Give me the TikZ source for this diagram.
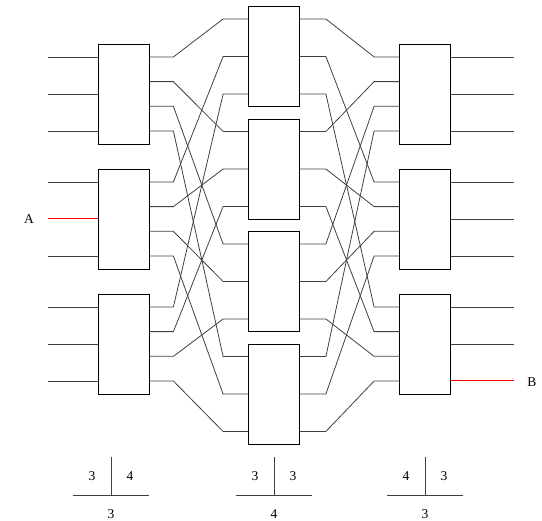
\documentclass[tikz,border=0pt]{standalone}
\usepackage{fontspec}
\setmainfont{Liberation Serif}
\usetikzlibrary{calc}

\tikzset{
  stage/.style={draw=black, line width=0.8pt, minimum width=51pt, minimum height=100pt, inner sep=0pt},
  wire/.style={draw=black!75, line width=0.8pt},
  hot/.style={draw=red, line width=1pt},
  lbl/.style={font=\fontsize{13.5}{15}\selectfont, inner sep=0pt}
}

\begin{document}
\begin{tikzpicture}[x=1pt, y=-1pt]
  \useasboundingbox (0,0) rectangle (542,521);

  % ==========================================
  % ETAGES : 3 + 4 + 3 COMMUTATEURS
  % ==========================================
  \foreach \i in {1,2,3} {
    \node[stage] (L\i) at (123.5, {94+125*(\i-1)}) {};
    \node[stage] (R\i) at (425, {94+125*(\i-1)}) {};
  }
  \foreach \j in {1,...,4} {
    \node[stage] (M\j) at (274, {56.5+112.5*(\j-1)}) {};
  }

  % Ports des commutateurs
  \foreach \i in {1,2,3} {
    \foreach \k in {1,2,3} {
      \coordinate (Li-\i-\k) at ($(L\i.west)+(0,{37*(\k-2)})$);
      \coordinate (Ro-\i-\k) at ($(R\i.east)+(0,{37*(\k-2)})$);
    }
    \foreach \j in {1,...,4} {
      \coordinate (Lo-\i-\j) at ($(L\i.east)+(0,{24.7*(\j-2.5)})$);
      \coordinate (Ri-\i-\j) at ($(R\i.west)+(0,{24.7*(\j-2.5)})$);
    }
  }
  \foreach \j in {1,...,4} {
    \foreach \k in {1,2,3} {
      \coordinate (Mi-\j-\k) at ($(M\j.west)+(0,{37.5*(\k-2)})$);
      \coordinate (Mo-\j-\k) at ($(M\j.east)+(0,{37.5*(\k-2)})$);
    }
  }

  % ==========================================
  % ENTREES ET SORTIES
  % ==========================================
  \foreach \i in {1,2,3} {
    \foreach \k in {1,2,3} {
      \coordinate (in-\i-\k) at ($(Li-\i-\k)+(-50,0)$);
      \coordinate (out-\i-\k) at ($(Ro-\i-\k)+(63,0)$);
    }
  }
  \foreach \i/\k in {1/1,1/2,1/3,2/1,2/3,3/1,3/2,3/3} {
    \draw[wire] (in-\i-\k) -- (Li-\i-\k);
  }
  \foreach \i/\k in {1/1,1/2,1/3,2/1,2/2,2/3,3/1,3/2} {
    \draw[wire] (Ro-\i-\k) -- (out-\i-\k);
  }
  % Chemin A -> B
  \draw[hot] (in-2-2) -- (Li-2-2);
  \draw[hot] (Ro-3-3) -- (out-3-3);
  \node[lbl] (A) at (29, 219) {A};
  \node[lbl] (B) at (532, 382) {B};

  % ==========================================
  % INTERCONNEXIONS (BRASSAGE)
  % ==========================================
  \foreach \i in {1,2,3} {
    \foreach \j in {1,...,4} {
      \draw[wire] (Lo-\i-\j) -- ++(24,0) -- ($(Mi-\j-\i)+(-25,0)$) -- (Mi-\j-\i);
      \draw[wire] (Mo-\j-\i) -- ++(26,0) -- ($(Ri-\i-\j)+(-25,0)$) -- (Ri-\i-\j);
    }
  }

  % ==========================================
  % TABLEAUX SOUS CHAQUE ETAGE
  % ==========================================
  \foreach \x/\a/\b/\c [count=\n] in {111/3/4/3, 274/3/3/4, 425/4/3/3} {
    \coordinate (T\n) at (\x, 495);
    \draw[wire] ($(T\n)+(-38,0)$) -- ($(T\n)+(38,0)$);
    \draw[wire] (T\n) -- ++(0,-38);
    \node[lbl] (Ta\n) at ($(T\n)+(-19,-19)$) {\a};
    \node[lbl] (Tb\n) at ($(T\n)+(19,-19)$) {\b};
    \node[lbl] (Tc\n) at ($(T\n)+(0,19)$) {\c};
  }

\end{tikzpicture}
\end{document}
